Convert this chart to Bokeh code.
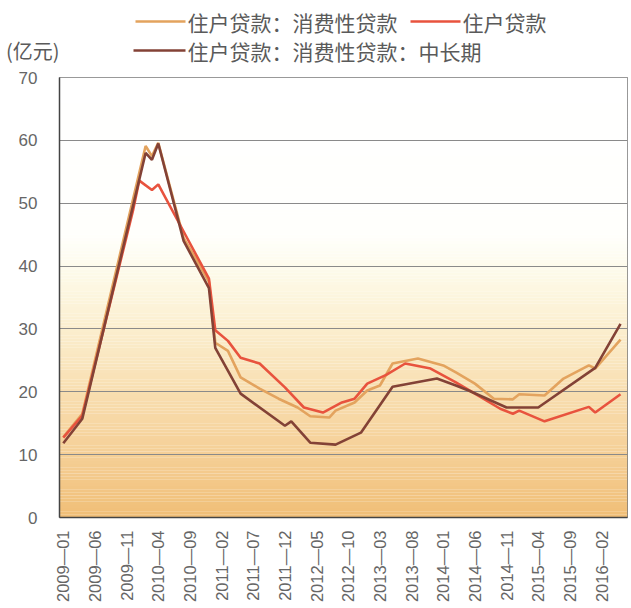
import numpy as np
from bokeh.plotting import figure
from bokeh.layouts import column
from bokeh.models import Range1d, FixedTicker
from bokeh.core.properties import value
from bokeh.embed import file_html
from bokeh.resources import INLINE

# Monthly category axis: 2009-01 .. 2016-05
months = [f"{y}-{m:02d}" for y in range(2009, 2017) for m in range(1, 13)][:89]
tick_labels = ["2009-01", "2009-06", "2009-11", "2010-04", "2010-09", "2011-02",
               "2011-07", "2011-12", "2012-05", "2012-10", "2013-03", "2013-08",
               "2014-01", "2014-06", "2014-11", "2015-04", "2015-09", "2016-02"]

# 住户贷款：消费性贷款
consumer_dates = ["2009-01", "2009-04", "2010-02", "2010-03", "2010-04", "2010-08",
                  "2010-12", "2011-01", "2011-03", "2011-05", "2011-08", "2011-11",
                  "2012-02", "2012-04", "2012-07", "2012-08", "2012-11", "2013-01",
                  "2013-03", "2013-05", "2013-09", "2014-01", "2014-03", "2014-06",
                  "2014-09", "2014-12", "2015-01", "2015-05", "2015-08", "2015-12",
                  "2016-01", "2016-05"]
consumer_vals = [12.8, 16.5, 59.1, 57.5, 59.6, 44.5, 37.5, 27.8, 26.5, 22.3, 20.5,
                 18.9, 17.5, 16.1, 15.9, 17.0, 18.3, 20.2, 21.0, 24.5, 25.3, 24.2,
                 23.1, 21.3, 18.9, 18.8, 19.6, 19.4, 22.1, 24.2, 23.7, 28.3]

# 住户贷款
household_dates = ["2009-01", "2009-04", "2009-12", "2010-01", "2010-03", "2010-04",
                   "2010-08", "2010-12", "2011-01", "2011-03", "2011-05", "2011-08",
                   "2011-12", "2012-03", "2012-06", "2012-09", "2012-11", "2013-01",
                   "2013-04", "2013-07", "2013-11", "2014-03", "2014-06", "2014-10",
                   "2014-12", "2015-01", "2015-05", "2015-12", "2016-01", "2016-05"]
household_vals = [12.7, 16.2, 48.8, 53.6, 52.1, 53.0, 45.5, 38.0, 29.8, 28.1, 25.4,
                  24.5, 20.7, 17.5, 16.7, 18.3, 18.9, 21.3, 22.7, 24.5, 23.7, 21.5,
                  19.7, 17.3, 16.5, 17.0, 15.3, 17.6, 16.7, 19.6]

# 住户贷款：消费性贷款：中长期
longterm_dates = ["2009-01", "2009-04", "2010-02", "2010-03", "2010-04", "2010-08",
                  "2010-12", "2011-01", "2011-05", "2011-12", "2012-01", "2012-04",
                  "2012-08", "2012-12", "2013-05", "2013-12", "2014-03", "2014-05",
                  "2014-11", "2015-04", "2016-01", "2016-05"]
longterm_vals = [11.8, 15.7, 58.0, 56.9, 59.5, 44.0, 36.5, 27.0, 19.7, 14.6, 15.3,
                 11.9, 11.6, 13.5, 20.8, 22.1, 21.0, 20.2, 17.5, 17.5, 23.8, 30.8]

series_names = ["住户贷款：消费性贷款", "住户贷款", "住户贷款：消费性贷款：中长期"]
unit_label = "(亿元)"
C_ORANGE, C_RED, C_BROWN = "#E3A35E", "#E8533E", "#834236"

idx = {m: i for i, m in enumerate(months)}
CJK = "Noto Sans CJK SC"
W = 631
LEFT, RIGHT = 59, 4

# ---------- header with legend and unit ----------
# the header frame lines up with the chart frame, so its x range is given in page pixels
head = figure(width=W, height=67, x_range=Range1d(LEFT, W - RIGHT), y_range=Range1d(67, 0),
              output_backend="svg", toolbar_location=None,
              min_border_left=LEFT, min_border_right=RIGHT, min_border_top=0, min_border_bottom=0)
head.xaxis.visible = False
head.grid.visible = False
head.outline_line_color = None

# the unit sits in the left margin, drawn as the single tick label of the header's y axis
UNIT_Y = 50
head.yaxis.ticker = FixedTicker(ticks=[UNIT_Y])
head.yaxis.major_label_overrides = {UNIT_Y: unit_label}
head.yaxis.axis_line_color = None
head.yaxis.major_tick_line_color = None
head.yaxis.minor_tick_line_color = None
head.yaxis.major_label_standoff = -6
head.yaxis.major_label_text_font = CJK
head.yaxis.major_label_text_font_size = "20px"
head.yaxis.major_label_text_color = "#5a5a5a"

legend_rows = [
    (135, 185, 21, C_ORANGE, series_names[0]),
    (410, 460, 21, C_RED, series_names[1]),
    (133, 185, 50, C_BROWN, series_names[2]),
]
for x0, x1, y, col, name in legend_rows:
    head.line([x0, x1], [y, y], line_color=col, line_width=2.5)
    head.text([x1 + 2], [y], text=[name], text_font=value(CJK), text_font_size="21px",
              text_color="#5a5a5a", text_baseline="middle", text_align="left")

# ---------- main chart ----------
p = figure(width=W, height=541, x_range=Range1d(-0.6, 89.1), y_range=Range1d(0, 70),
           output_backend="svg", toolbar_location=None,
           min_border_left=LEFT, min_border_right=RIGHT, min_border_top=10, min_border_bottom=91)

# warm vertical gradient behind the plot
stops_y = [0, 10, 20, 30, 38, 45, 70]
stops_rgb = np.array([(240, 190, 118), (245, 207, 150), (248, 222, 176), (251, 238, 206),
                      (253, 249, 230), (255, 255, 252), (255, 255, 255)], dtype=float)
edges = np.linspace(0, 70, 141)
mids = (edges[:-1] + edges[1:]) / 2
band_cols = []
for ym in mids:
    rgb = [np.interp(ym, stops_y, stops_rgb[:, k]) for k in range(3)]
    band_cols.append("#%02x%02x%02x" % tuple(int(round(c)) for c in rgb))
bg = p.quad(left=-0.6, right=89.1, bottom=edges[:-1], top=edges[1:],
            fill_color=band_cols, line_color=None)
bg.level = "image"

p.line([idx[d] for d in consumer_dates], consumer_vals, line_color=C_ORANGE, line_width=2.6)
p.line([idx[d] for d in household_dates], household_vals, line_color=C_RED, line_width=2.6)
p.line([idx[d] for d in longterm_dates], longterm_vals, line_color=C_BROWN, line_width=2.6)

p.xgrid.visible = False
p.ygrid.grid_line_color = "#8a8a8a"
p.ygrid.grid_line_width = 1
p.ygrid.ticker = FixedTicker(ticks=list(range(10, 70, 10)))

p.yaxis.ticker = FixedTicker(ticks=list(range(0, 80, 10)))
p.yaxis.major_tick_line_color = None
p.yaxis.minor_tick_line_color = None
p.yaxis.axis_line_color = "#444444"
p.yaxis.axis_line_width = 1.5
p.yaxis.major_label_standoff = 16
p.yaxis.major_label_text_font = "Liberation Sans"
p.yaxis.major_label_text_font_size = "17px"
p.yaxis.major_label_text_color = "#666666"

tick_pos = [idx[t] for t in tick_labels]
p.xaxis.ticker = FixedTicker(ticks=tick_pos)
p.xaxis.major_label_overrides = {i: t.replace("-", "—") for i, t in zip(tick_pos, tick_labels)}
p.xaxis.major_label_orientation = np.pi / 2
p.xaxis.major_tick_line_color = None
p.xaxis.minor_tick_line_color = None
p.xaxis.axis_line_color = "#444444"
p.xaxis.axis_line_width = 1.5
p.xaxis.major_label_standoff = 7
p.xaxis.major_label_text_font = "Liberation Sans"
p.xaxis.major_label_text_font_size = "16.5px"
p.xaxis.major_label_text_color = "#666666"

p.outline_line_color = "#777777"
p.outline_line_width = 1

layout = column(head, p, spacing=0)
open("out.html", "w").write(file_html(layout, INLINE))
